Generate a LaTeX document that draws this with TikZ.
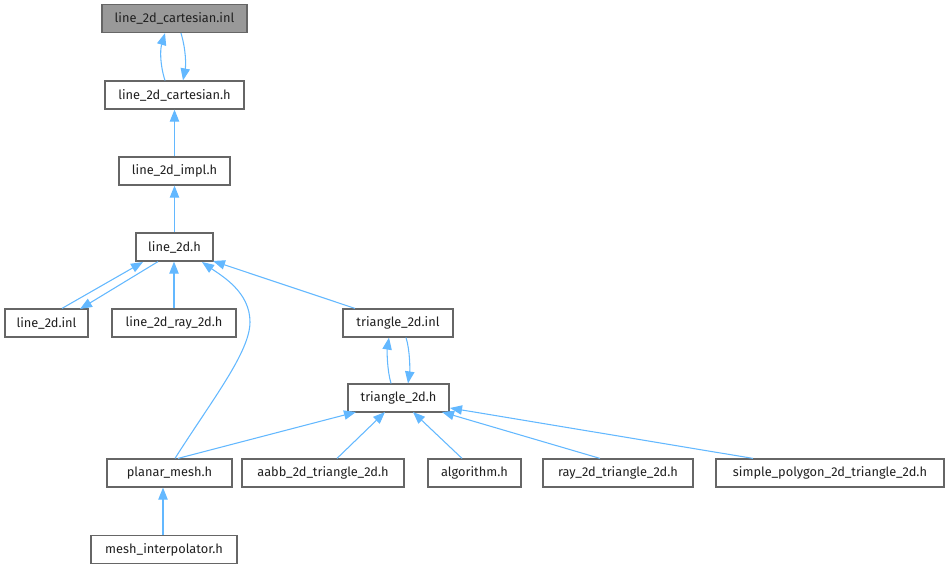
\documentclass[tikz,border=0pt]{standalone}
\usepackage{fontspec}
\setmainfont{Fira Sans}
\usetikzlibrary{arrows.meta}
\definecolor{edgeblue}{HTML}{63B8FF}
\definecolor{boxgray}{HTML}{666666}
\definecolor{rootfill}{HTML}{999999}
\definecolor{txt}{HTML}{202020}
\tikzset{
  box/.style={draw=boxgray, line width=0.9pt, fill=white, minimum height=21pt, inner sep=0pt, font=\fontsize{9.6pt}{11pt}\selectfont, text=txt},
  rootbox/.style={box, fill=rootfill},
  edge/.style={draw=edgeblue, line width=0.8pt, -{Triangle[length=9pt,width=7pt]}},
}
\begin{document}
\begin{tikzpicture}[x=0.75pt,y=-0.75pt]
\useasboundingbox (0,0) rectangle (950,568);
\node[rootbox, minimum width=108.75pt] (cinl) at (174.5,18.5) {line\_2d\_cartesian.inl};
\node[box, minimum width=104.25pt] (ch) at (174.5,95) {line\_2d\_cartesian.h};
\node[box, minimum width=83.25pt] (impl) at (174.5,171) {line\_2d\_impl.h};
\node[box, minimum width=57.75pt] (l2d) at (174.5,247) {line\_2d.h};
\node[box, minimum width=62.25pt] (linl) at (46.5,323) {line\_2d.inl};
\node[box, minimum width=93pt] (ray) at (174,323) {line\_2d\_ray\_2d.h};
\node[box, minimum width=82.5pt] (tinl) at (398,323) {triangle\_2d.inl};
\node[box, minimum width=75.75pt] (th) at (398.5,398) {triangle\_2d.h};
\node[box, minimum width=93.75pt] (pm) at (169.5,473) {planar\_mesh.h};
\node[box, minimum width=121.5pt] (aabb) at (323,473) {aabb\_2d\_triangle\_2d.h};
\node[box, minimum width=69.75pt] (alg) at (474.5,473) {algorithm.h};
\node[box, minimum width=112.5pt] (r2t) at (618,473) {ray\_2d\_triangle\_2d.h};
\node[box, minimum width=171pt] (spt) at (830,473) {simple\_polygon\_2d\_triangle\_2d.h};
\node[box, minimum width=109.5pt] (mi) at (164,549.5) {mesh\_interpolator.h};

% cartesian pair
\draw[edge] (ch.north -| 165,0) .. controls (160,65) and (160,50) .. (cinl.south -| 165,0);
\draw[edge] (cinl.south -| 181,0) .. controls (186,50) and (186,65) .. (ch.north -| 183,0);
\draw[edge] (impl) -- (ch);
\draw[edge] (l2d) -- (impl);
% line_2d.inl pair
\draw[edge] (linl.north -| 62,0) -- (143,262);
\draw[edge] (l2d.south -| 158,0) -- (80,309);
\draw[edge] (ray) -- (l2d.south -| 174,0);
% planar mesh curve to line_2d.h
\draw[edge] (pm.north -| 175,0) .. controls (212,400) and (250,352) .. (250,322)
  .. controls (250,292) and (222,276) .. (202,262);
\draw[edge] (tinl.north -| 355,0) -- (213,261);
% triangle pair
\draw[edge] (th.north -| 391,0) .. controls (387,370) and (387,350) .. (tinl.south -| 389,0);
\draw[edge] (tinl.south -| 406,0) .. controls (410,350) and (410,370) .. (th.north -| 408,0);
% to triangle_2d.h
\draw[edge] (pm.north -| 178,0) -- (356,412);
\draw[edge] (aabb.north -| 337,0) -- (385,412);
\draw[edge] (alg.north -| 462,0) -- (413,412);
\draw[edge] (r2t.north -| 600,0) -- (442,412);
\draw[edge] (spt.north -| 753,0) -- (450,408);
\draw[edge] (mi.north -| 163,0) -- (pm.south -| 163,0);
\end{tikzpicture}
\end{document}
